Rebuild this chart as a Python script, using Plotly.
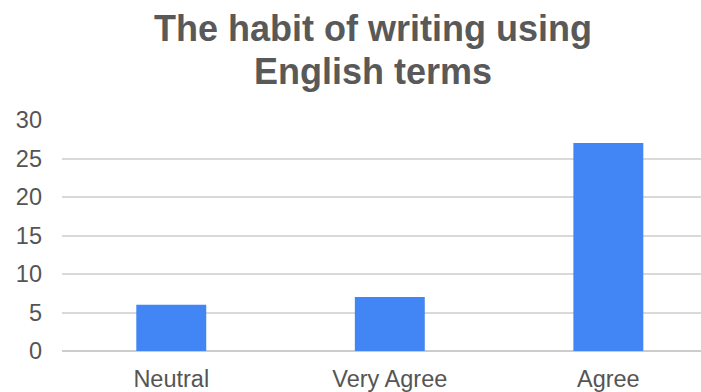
import plotly.graph_objects as go

categories = ["Neutral", "Very Agree", "Agree"]
values = [6, 7, 27]
y_ticks = [0, 5, 10, 15, 20, 25, 30]
title_lines = ["The habit of writing using", "English terms"]

fig = go.Figure()
fig.add_trace(go.Bar(
    x=categories, y=values,
    marker=dict(color="#4285F4", line=dict(width=0)),
    width=0.32,
))

title_font = dict(size=36, color="#595959", family="Liberation Sans, Arial, sans-serif")
fig.update_layout(
    width=701, height=392,
    margin=dict(l=62, r=0, t=120, b=41),
    paper_bgcolor="white", plot_bgcolor="white",
    showlegend=False,
    font=dict(family="Liberation Sans, Arial, sans-serif", size=23.5, color="#555555"),
    annotations=[
        dict(text="<b>%s</b>" % title_lines[0], xref="paper", yref="paper",
             x=0.4867, y=1, yshift=92, xanchor="center", yanchor="middle",
             showarrow=False, font=title_font),
        dict(text="<b>%s</b>" % title_lines[1], xref="paper", yref="paper",
             x=0.4867, y=1, yshift=49, xanchor="center", yanchor="middle",
             showarrow=False, font=title_font),
    ],
)
fig.update_xaxes(
    range=[-0.5, 2.424], showgrid=False, ticks="", showline=False,
    ticklabelstandoff=11,
    tickfont=dict(size=23.5, color="#555555"),
)
fig.update_yaxes(
    range=[0, 30], tickvals=y_ticks, showgrid=True, gridcolor="#d9d9d9", gridwidth=1.5,
    zeroline=True, zerolinecolor="#cccccc", zerolinewidth=1.5,
    ticks="", ticklabelstandoff=19, showline=False,
    tickfont=dict(size=23.5, color="#555555"),
)

fig.write_html("out.html", config={"displayModeBar": False},
               post_script="document.body.style.margin='0px';")
